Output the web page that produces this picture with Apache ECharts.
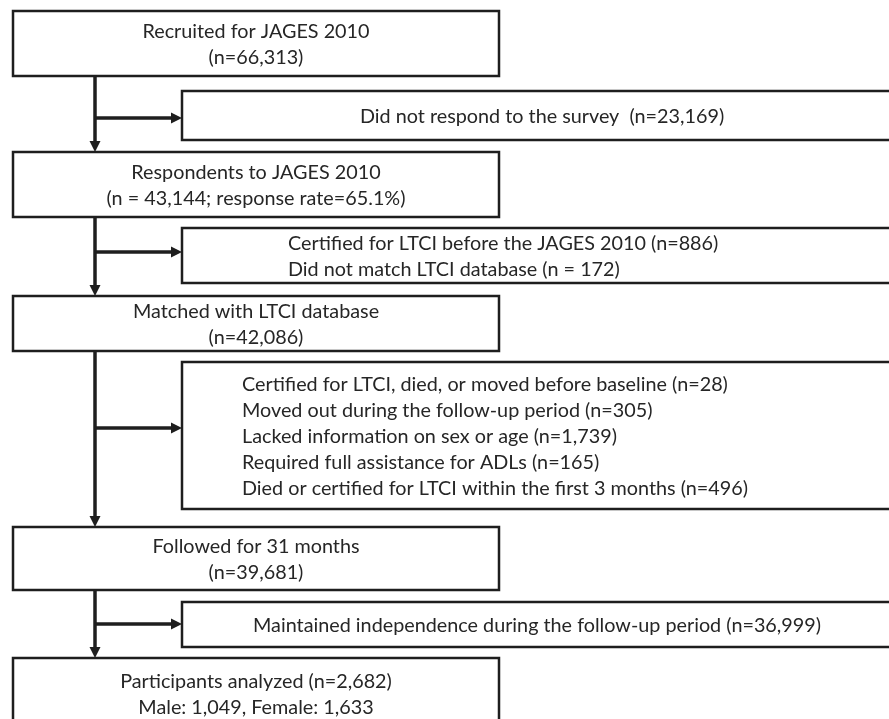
<!DOCTYPE html>
<html><head><meta charset="utf-8">
<script src="https://cdn.jsdelivr.net/npm/echarts@6/dist/echarts.min.js"></script>
<style>html,body{margin:0;padding:0;background:#fff}#c{width:889px;height:719px}</style>
</head><body><div id="c"></div>
<script>
// ---- data (texts) ----
const mainTitles = [
  'Recruited for JAGES 2010',
  'Respondents to JAGES 2010',
  'Matched with LTCI database',
  'Followed for 31 months',
  'Participants analyzed (n=2,682)'
];
const mainDetails = [
  '(n=66,313)',
  '(n = 43,144; response rate=65.1%)',
  '(n=42,086)',
  '(n=39,681)',
  'Male: 1,049, Female: 1,633'
];
const exclusionTexts = [
  ['Did not respond to the survey  (n=23,169)'],
  ['Certified for LTCI before the JAGES 2010 (n=886)',
   'Did not match LTCI database (n = 172)'],
  ['Certified for LTCI, died, or moved before baseline (n=28)',
   'Moved out during the follow-up period (n=305)',
   'Lacked information on sex or age (n=1,739)',
   'Required full assistance for ADLs (n=165)',
   'Died or certified for LTCI within the first 3 months (n=496)'],
  ['Maintained independence during the follow-up period (n=36,999)']
];

// ---- layout (axis units) ----
const mainBoxes = [[13,11,499,76],[13,152,499,217],[13,296,499,351],[13,527,499,590],[13,658,499,730]];
const exclBoxes = [[182,91,895,140],[182,228,895,283],[182,362,895,509],[182,602,895,647]];
const exclTextX = [360, 288, 242, 253];
const spineX = 95;
const branchY = [118, 252, 428, 624];

const FONT_FAMILY = 'Lato, "Open Sans", sans-serif';
const FONT_SIZE = 19.8;
const LINE_H = 26;
const INK = '#1e1e1e';

// build box data
const boxData = [];
mainBoxes.forEach((b, i) => boxData.push({value: b, kind: 'main', lines: [mainTitles[i], mainDetails[i]]}));
exclBoxes.forEach((b, i) => boxData.push({value: b, kind: 'excl', lines: exclusionTexts[i], tx: exclTextX[i]}));

// connectors
const arrowData = [];
for (let i = 0; i < mainBoxes.length - 1; i++) {
  arrowData.push([spineX, mainBoxes[i][3], spineX, mainBoxes[i + 1][1]]);
}
for (let i = 0; i < exclBoxes.length; i++) {
  arrowData.push([spineX, branchY[i], exclBoxes[i][0], branchY[i]]);
}

function renderBox(params, api) {
  const d = boxData[params.dataIndex];
  const p0 = api.coord([api.value(0), api.value(1)]);
  const p1 = api.coord([api.value(2), api.value(3)]);
  const w = p1[0] - p0[0], h = p1[1] - p0[1];
  const cy = (p0[1] + p1[1]) / 2 + 1;
  let tx, align;
  if (d.kind === 'main') { tx = (p0[0] + p1[0]) / 2; align = 'center'; }
  else { tx = api.coord([d.tx, 0])[0]; align = 'left'; }
  return {
    type: 'group',
    children: [
      {type: 'rect', shape: {x: p0[0], y: p0[1], width: w, height: h},
       style: {fill: '#fff', stroke: INK, lineWidth: 2.5}},
      {type: 'text', style: {
        text: d.lines.join('\n'), x: tx, y: cy, align: align, verticalAlign: 'middle',
        fontFamily: FONT_FAMILY, fontSize: FONT_SIZE, lineHeight: LINE_H, fill: '#262626'
      }}
    ]
  };
}

function renderArrow(params, api) {
  const a = api.coord([api.value(0), api.value(1)]);
  const b = api.coord([api.value(2), api.value(3)]);
  const dx = b[0] - a[0], dy = b[1] - a[1];
  const len = Math.sqrt(dx * dx + dy * dy);
  const ux = dx / len, uy = dy / len;
  const hl = 11, hw = 5.5;
  const base = [b[0] - ux * hl, b[1] - uy * hl];
  const px = -uy, py = ux;
  return {
    type: 'group',
    children: [
      {type: 'line', shape: {x1: a[0], y1: a[1], x2: base[0] + ux, y2: base[1] + uy},
       style: {stroke: INK, lineWidth: 3.5}},
      {type: 'polygon', shape: {points: [
        [b[0], b[1]],
        [base[0] + px * hw, base[1] + py * hw],
        [base[0] - px * hw, base[1] - py * hw]
      ]}, style: {fill: INK}}
    ]
  };
}

const chart = echarts.init(document.getElementById('c'), null, {renderer: 'canvas'});
chart.setOption({
  animation: false,
  backgroundColor: '#fff',
  grid: {left: 0, right: 0, top: 0, bottom: 0},
  xAxis: {type: 'value', min: 0, max: 889, show: false},
  yAxis: {type: 'value', min: 0, max: 719, inverse: true, show: false},
  series: [
    {type: 'custom', renderItem: renderBox, data: boxData.map(d => d.value), clip: true, z: 2,
     encode: {x: [0, 2], y: [1, 3]}},
    {type: 'custom', renderItem: renderArrow, data: arrowData, clip: true, z: 3,
     encode: {x: [0, 2], y: [1, 3]}}
  ]
});
</script>
</body></html>
